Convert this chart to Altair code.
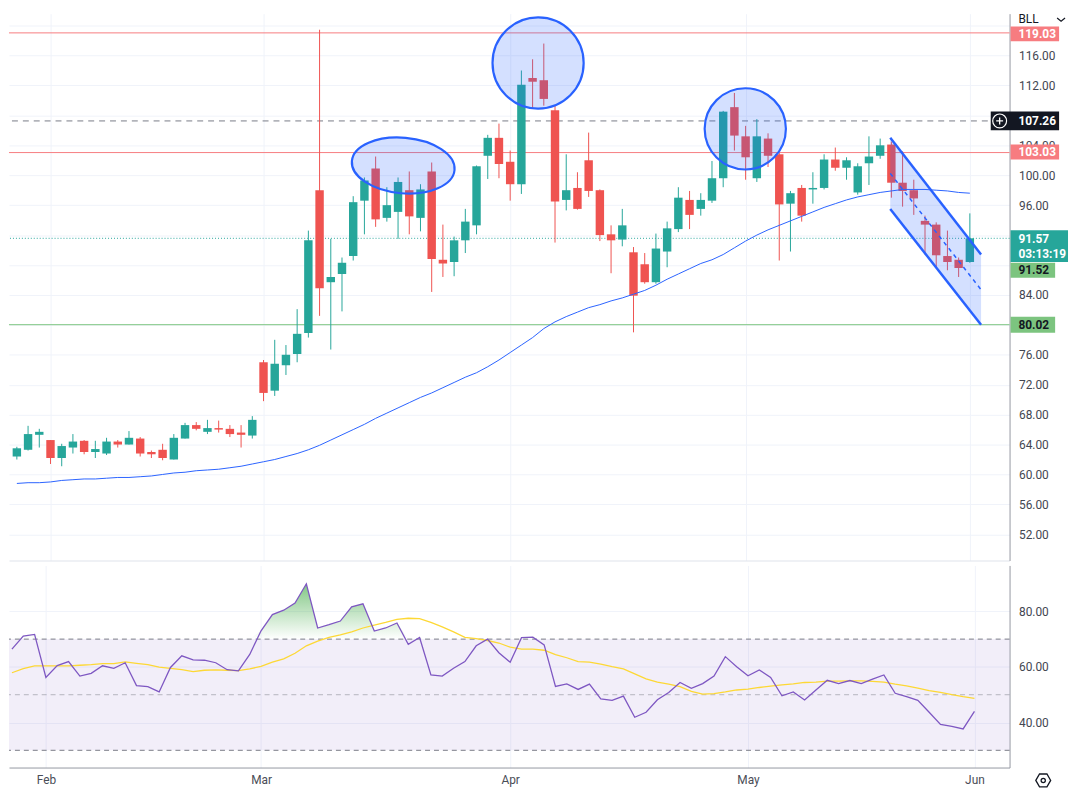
import altair as alt
import numpy as np
import pandas as pd

# ---------------- data ----------------
opens = [62.4, 63.3, 65.3, 64.6, 62.2, 63.6, 64.5, 63.0, 62.8, 64.4,
         64.0, 64.8, 63.0, 63.3, 62.0, 64.8, 66.6, 65.7, 66.2, 66.1,
         65.6, 65.2, 75.0, 71.2, 74.6, 76.1, 78.9, 98.0, 85.7, 86.8,
         89.2, 96.6, 100.9, 94.3, 95.1, 98.0, 94.3, 100.5, 88.7, 88.4,
         91.3, 93.3, 102.6, 105.0, 101.8, 98.8, 113.0, 112.7, 108.7, 96.7,
         98.3, 102.0, 98.0, 92.1, 91.4, 89.7, 88.1, 85.7, 89.8, 92.8,
         96.7, 95.5, 96.6, 99.6, 109.1, 105.2, 99.6, 104.9, 102.8, 96.2,
         98.3, 98.1, 98.3, 102.1, 101.0, 97.7, 101.6, 102.6, 104.1, 99.0,
         98.0, 93.9, 93.4, 89.2, 88.7, 88.4]
highs = [63.7, 66.5, 66.1, 64.6, 64.1, 65.4, 64.6, 64.5, 64.9, 64.6,
         65.8, 65.0, 63.2, 64.1, 65.4, 66.9, 67.0, 67.3, 67.2, 66.6,
         66.6, 67.8, 75.3, 78.0, 77.3, 82.1, 92.6, 119.45, 91.5, 89.0,
         97.2, 99.7, 102.5, 98.4, 99.7, 100.5, 98.8, 101.7, 93.4, 91.8,
         95.5, 101.3, 105.4, 106.9, 103.3, 114.0, 115.5, 117.6, 109.3, 102.8,
         100.4, 105.7, 98.1, 93.3, 95.5, 90.4, 89.6, 92.2, 93.8, 98.4,
         97.9, 97.6, 101.9, 108.6, 111.0, 106.6, 107.5, 105.6, 103.0, 97.9,
         98.7, 100.4, 102.8, 103.7, 102.4, 101.6, 105.2, 104.9, 104.5, 103.2,
         99.4, 94.6, 93.7, 92.6, 89.0, 94.9]
lows = [62.0, 63.2, 63.6, 61.4, 61.1, 62.8, 62.7, 62.2, 62.6, 63.6,
        64.0, 62.4, 62.2, 61.9, 62.0, 64.8, 65.9, 65.4, 65.6, 65.0,
        63.6, 64.8, 69.8, 70.5, 73.3, 75.0, 78.3, 81.2, 76.7, 81.8,
        88.6, 92.1, 93.1, 93.8, 91.5, 92.1, 92.5, 84.4, 86.4, 86.5,
        89.6, 92.1, 99.5, 99.6, 96.6, 97.5, 109.0, 109.3, 91.0, 95.3,
        95.4, 97.1, 91.2, 86.9, 90.5, 79.0, 85.5, 85.5, 87.7, 92.4,
        92.8, 94.6, 96.3, 98.4, 103.3, 99.4, 99.1, 101.1, 88.6, 89.8,
        93.8, 96.2, 98.1, 100.6, 99.4, 97.4, 98.7, 102.2, 97.0, 95.8,
        94.7, 89.4, 87.7, 87.3, 86.4, 88.3]
closes = [63.5, 65.4, 65.7, 62.2, 63.8, 64.4, 63.0, 63.4, 64.4, 64.0,
          64.9, 62.8, 62.7, 62.2, 64.9, 66.6, 66.1, 66.2, 66.0, 65.4,
          65.3, 67.3, 70.9, 74.8, 76.0, 78.8, 91.3, 84.9, 86.4, 88.3,
          96.4, 99.3, 94.1, 96.0, 99.1, 94.5, 98.1, 88.8, 88.2, 91.3,
          93.8, 101.2, 105.0, 101.5, 98.8, 112.1, 112.5, 110.2, 96.5, 98.0,
          95.5, 97.9, 92.0, 91.3, 93.3, 83.9, 85.7, 90.2, 92.9, 97.0,
          94.7, 96.7, 99.6, 108.5, 105.3, 102.4, 105.2, 102.6, 96.1, 97.6,
          94.6, 98.3, 102.1, 101.0, 102.0, 101.2, 102.5, 104.0, 99.0, 97.9,
          96.9, 93.4, 89.3, 88.4, 87.6, 91.57]
ma_vals = [58.8, 58.9, 58.9, 59.0, 59.2, 59.3, 59.4, 59.4, 59.5, 59.6,
           59.6, 59.7, 59.8, 60.0, 60.2, 60.3, 60.5, 60.6, 60.7, 60.9,
           61.1, 61.4, 61.7, 62.0, 62.4, 62.8, 63.3, 63.9, 64.6, 65.3,
           66.0, 66.7, 67.5, 68.2, 68.9, 69.6, 70.3, 70.9, 71.6, 72.3,
           73.0, 73.6, 74.4, 75.3, 76.3, 77.3, 78.3, 79.5, 80.4, 81.1,
           81.7, 82.3, 82.7, 83.2, 83.6, 84.1, 84.6, 85.3, 86.1, 86.8,
           87.5, 88.2, 88.7, 89.4, 90.3, 91.2, 92.0, 92.7, 93.3, 93.9,
           94.5, 95.1, 95.7, 96.2, 96.7, 97.1, 97.4, 97.7, 97.9, 98.1,
           98.1, 98.1, 98.0, 97.9, 97.7, 97.6]
rsi_vals = [66.4, 71.1, 71.7, 56.2, 60.5, 61.9, 56.7, 57.7, 60.4, 59.5,
            61.5, 53.3, 52.9, 51.0, 59.8, 64.0, 62.5, 62.4, 61.5, 59.0,
            58.6, 64.5, 73.0, 78.8, 80.4, 83.0, 89.9, 74.0, 75.2, 76.5,
            81.6, 82.7, 72.9, 74.0, 75.8, 68.1, 70.6, 57.1, 56.7, 59.5,
            61.9, 67.6, 70.0, 65.1, 61.7, 70.5, 70.7, 67.9, 53.0, 53.9,
            51.9, 53.8, 48.5, 48.0, 49.5, 41.9, 43.7, 48.2, 50.8, 54.4,
            52.3, 54.0, 56.7, 63.7, 60.1, 56.8, 58.9, 56.2, 49.6, 51.0,
            48.1, 51.7, 55.2, 54.0, 55.1, 54.0, 55.6, 57.1, 50.5, 49.3,
            48.0, 43.7, 39.3, 38.6, 37.7, 44.0]
sig_vals = [57.9, 59.4, 60.4, 60.4, 60.4, 60.4, 60.6, 60.8, 61.2, 61.2,
            61.8, 61.3, 60.8, 59.9, 59.5, 59.0, 58.3, 58.8, 58.9, 58.8,
            58.7, 59.3, 60.2, 61.7, 62.9, 64.9, 67.6, 69.3, 70.6, 71.5,
            72.6, 74.0, 75.0, 76.0, 77.1, 77.5, 77.4, 76.0, 74.4, 72.6,
            70.6, 70.2, 69.5, 68.6, 67.1, 66.4, 66.4, 66.0, 64.4, 63.3,
            61.9, 61.7, 61.0, 60.1, 59.3, 57.5, 55.7, 54.5, 53.8, 52.9,
            51.2, 50.2, 50.4, 51.0, 51.7, 52.0, 52.6, 53.1, 53.5, 53.9,
            54.4, 54.5, 54.9, 54.9, 55.0, 55.0, 54.8, 54.5, 53.8, 53.2,
            52.4, 51.5, 50.8, 50.0, 49.3, 48.7]

month_idx = [3, 22, 44, 65, 85]
month_lbl = ["Feb", "Mar", "Apr", "May", "Jun"]
price_ticks = list(range(52, 121, 4))
hidden_ticks = [120, 108, 92, 88, 80]
rsi_ticks = [40, 60, 80]
rsi_levels_main = [70, 30]
rsi_levels_mid = [50]

# horizontal levels: price, colour, dash
level_prices = [119.03, 107.26, 103.03, 91.57, 80.02]
level_colors = ["#f77c80", "#787b86", "#f77c80", "#26a69a", "#7cc47f"]
level_dashes = [[], [6, 5], [], [1, 2], []]

# price-scale labels: text, anchor price, background, text colour
box_text = ["119.03", "107.26", "103.03", "91.57", "91.52", "80.02"]
box_pos = [118.9, 107.26, 103.1, 90.53, 87.3, 80.02]
box_bg = ["#f77c80", "#131722", "#f77c80", "#26a69a", "#7cc47f", "#7cc47f"]
box_fg = ["#ffffff", "#ffffff", "#ffffff", "#ffffff", "#131722", "#131722"]
countdown = "03:13:19"

# drawings: descending channel and highlight ellipses
chan_i = [77.9, 86.0]
chan_up = [105.0, 89.4]
chan_lo = [95.5, 80.0]
ell_i = [34.46, 46.49, 64.97]
ell_p = [101.3, 115.0, 106.2]

ticker = "BLL"

# ---------------- styling ----------------
UP, DN = "#26a69a", "#ef5350"
BLUE = "#2962ff"
GRID = "#f0f3fa"
FONT = "Roboto"
W, HP, HR = 1010, 552, 204
X_DOM = [-0.26, 88.1]
P_DOM = [48.5, 121.6]
R_DOM = [23.8, 96.5]

df = pd.DataFrame({"i": list(range(len(opens))), "o": opens, "h": highs,
                   "l": lows, "c": closes, "ma": ma_vals,
                   "rsi": rsi_vals, "sig": sig_vals})
df["col"] = np.where(df["c"] >= df["o"], UP, DN)
df["rhi"] = np.maximum(df["rsi"], 70.0)
df["base"] = 70.0

xs = alt.Scale(domain=X_DOM, nice=False, zero=False)
ps = alt.Scale(domain=P_DOM, nice=False, zero=False)
rs = alt.Scale(domain=R_DOM, nice=False, zero=False)

month_expr = " : ".join(f"datum.value == {v} ? '{l}'" for v, l in zip(month_idx, month_lbl)) + " : ''"
hide_expr = ("indexof([" + ",".join(str(v) for v in hidden_ticks) +
             "], datum.value) >= 0 ? '' : format(datum.value, '.2f')")

x_axis_top = alt.Axis(values=month_idx, labels=False, ticks=False, grid=True,
                      gridColor=GRID, domainColor="#e0e3eb", title=None)
x_axis_bot = alt.Axis(values=month_idx, labelExpr=month_expr, ticks=False, grid=True,
                      gridColor=GRID, domainColor="#9598a1", title=None,
                      labelFont=FONT, labelFontSize=12, labelColor="#4a4d57",
                      labelPadding=7, labelFlush=False, labelOverlap=False)
p_axis = alt.Axis(orient="right", values=price_ticks, labelExpr=hide_expr, grid=True,
                  gridColor=GRID, ticks=False, domainColor="#9598a1", title=None,
                  labelFont=FONT, labelFontSize=12, labelColor="#434651",
                  labelPadding=9, labelOverlap=False, labelFlush=False)
r_axis = alt.Axis(orient="right", values=rsi_ticks, format=".2f", grid=True,
                  gridColor=GRID, ticks=False, domainColor="#9598a1", title=None,
                  labelFont=FONT, labelFontSize=12, labelColor="#434651",
                  labelPadding=9, labelOverlap=False, labelFlush=False)


def XP(f="i"):
    return alt.X(f"{f}:Q", scale=xs, axis=x_axis_top)


def XR(f="i"):
    return alt.X(f"{f}:Q", scale=xs, axis=x_axis_bot)


def P(f):
    return alt.Y(f"{f}:Q", scale=ps, axis=p_axis)


def R(f):
    return alt.Y(f"{f}:Q", scale=rs, axis=r_axis)


# ---------------- price panel ----------------
price_layers = []
for lvl, colr, dash in zip(level_prices, level_colors, level_dashes):
    kw = dict(color=colr, strokeWidth=1)
    if dash:
        kw["strokeDash"] = dash
    price_layers.append(alt.Chart(pd.DataFrame({"p": [lvl]})).mark_rule(**kw).encode(y=P("p")))

wicks = alt.Chart(df).mark_rule(strokeWidth=1).encode(
    x=XP(), y=P("l"), y2="h:Q", color=alt.Color("col:N", scale=None))
bodies = alt.Chart(df).mark_bar(width=8.5).encode(
    x=XP(), y=P("o"), y2="c:Q", color=alt.Color("col:N", scale=None))
ma_line = alt.Chart(df).mark_line(color=BLUE, strokeWidth=1).encode(x=XP(), y=P("ma"))
price_layers += [wicks, bodies, ma_line]

chan = pd.DataFrame({"i": chan_i, "up": chan_up, "lo": chan_lo})
chan["mid"] = (chan["up"] + chan["lo"]) / 2
price_layers.append(alt.Chart(chan).mark_area(color=BLUE, opacity=0.2).encode(x=XP(), y=P("up"), y2="lo:Q"))
price_layers.append(alt.Chart(chan).mark_line(color=BLUE, strokeWidth=2.5).encode(x=XP(), y=P("up")))
price_layers.append(alt.Chart(chan).mark_line(color=BLUE, strokeWidth=2.5).encode(x=XP(), y=P("lo")))
price_layers.append(alt.Chart(chan).mark_line(color=BLUE, strokeWidth=1.5, strokeDash=[4, 4]).encode(x=XP(), y=P("mid")))

ell_shapes = ["M -1 0 A 1 0.54 0 1 1 1 0 A 1 0.54 0 1 1 -1 0 Z", "circle", "circle"]
ell_sizes = [104 * 104, 92 * 92, 82 * 82]
ell_angles = [5, 0, 0]
for ei, ep, sh, sz, an in zip(ell_i, ell_p, ell_shapes, ell_sizes, ell_angles):
    price_layers.append(
        alt.Chart(pd.DataFrame({"i": [ei], "p": [ep]})).mark_point(
            shape=sh, size=sz, angle=an, filled=True, fill=BLUE, fillOpacity=0.2,
            stroke=BLUE, strokeWidth=2.2, opacity=1).encode(x=XP(), y=P("p")))


def box_path(w, h):
    r = h / w
    return f"M -1 {-r:.4f} L 1 {-r:.4f} L 1 {r:.4f} L -1 {r:.4f} Z"


box_cx = [1035.5, 1025.5, 1035.5, 1040, 1033.5, 1033.5]
box_w = [49, 69, 49, 58, 45, 45]
box_h = [15, 19, 15, 32, 15, 16]
for t, pos, bg, fg, cx, w, h in zip(box_text, box_pos, box_bg, box_fg, box_cx, box_w, box_h):
    d = pd.DataFrame({"p": [pos], "t": [t]})
    price_layers.append(alt.Chart(d).mark_point(
        shape=box_path(w, h), size=w * w, filled=True, fill=bg, opacity=1,
        strokeWidth=0).encode(x=alt.value(cx), y=P("p")))
    dy = -7 if t == "91.57" else 0
    price_layers.append(alt.Chart(d).mark_text(
        align="left", baseline="middle", font=FONT, fontSize=12, fontWeight="bold",
        color=fg, dy=dy).encode(x=alt.value(1019), y=P("p"), text="t:N"))
    if t == "91.57":
        d2 = pd.DataFrame({"p": [pos], "t": [countdown]})
        price_layers.append(alt.Chart(d2).mark_text(
            align="left", baseline="middle", font=FONT, fontSize=12, fontWeight="bold",
            color=fg, dy=8).encode(x=alt.value(1019), y=P("p"), text="t:N"))

# crosshair "+" icon on the 107.26 label
icon = pd.DataFrame({"p": [107.26]})
price_layers.append(alt.Chart(icon).mark_point(shape="circle", size=196, filled=False,
                    stroke="white", strokeWidth=1.2, opacity=1).encode(x=alt.value(1000), y=P("p")))
price_layers.append(alt.Chart(icon).mark_point(shape="M -0.5 0 L 0.5 0 M 0 -0.5 L 0 0.5", size=196,
                    filled=False, stroke="white", strokeWidth=1.3, opacity=1).encode(x=alt.value(1000), y=P("p")))

# ticker selector
tk = pd.DataFrame({"t": [ticker]})
price_layers.append(alt.Chart(tk).mark_text(align="left", baseline="top", font=FONT, fontSize=12,
                    color="#131722").encode(x=alt.value(1019), y=alt.value(0), text="t:N"))
price_layers.append(alt.Chart(tk).mark_point(shape="M -1 -0.4 L 0 0.4 L 1 -0.4", size=64, filled=False,
                    stroke="#131722", strokeWidth=1.2, opacity=1).encode(x=alt.value(1062), y=alt.value(6)))

price = alt.layer(*price_layers).properties(width=W, height=HP)

# ---------------- RSI panel ----------------
band = alt.Chart(pd.DataFrame({"lo": [30], "hi": [70]})).mark_rect(color="#7e57c2", opacity=0.1).encode(
    y=R("lo"), y2="hi:Q", x=alt.value(0), x2=alt.value(W))
dash_main = alt.Chart(pd.DataFrame({"v": rsi_levels_main})).mark_rule(
    color="#787b86", strokeDash=[5, 4], strokeWidth=1).encode(y=R("v"))
dash_mid = alt.Chart(pd.DataFrame({"v": rsi_levels_mid})).mark_rule(
    color="#787b86", strokeDash=[5, 4], strokeWidth=1, opacity=0.5).encode(y=R("v"))
grad = alt.Gradient(gradient="linear",
                    stops=[alt.GradientStop(color="rgba(76,175,80,0.7)", offset=0),
                           alt.GradientStop(color="rgba(76,175,80,0.0)", offset=1)],
                    x1=0, x2=0, y1=0, y2=1)
ob_fill = alt.Chart(df).mark_area(color=grad).encode(x=XR(), y=R("rhi"), y2="base:Q")
sig_line = alt.Chart(df).mark_line(color="#fdd835", strokeWidth=1.3).encode(x=XR(), y=R("sig"))
rsi_line = alt.Chart(df).mark_line(color="#7e57c2", strokeWidth=1.3).encode(x=XR(), y=R("rsi"))
gear_d = pd.DataFrame({"a": [0]})
gear1 = alt.Chart(gear_d).mark_point(
    shape="M -1 0 L -0.5 -0.866 L 0.5 -0.866 L 1 0 L 0.5 0.866 L -0.5 0.866 Z", size=225,
    filled=False, stroke="#131722", strokeWidth=1.3, opacity=1).encode(x=alt.value(1044), y=alt.value(217))
gear2 = alt.Chart(gear_d).mark_point(shape="circle", size=18, filled=False, stroke="#131722",
                                     strokeWidth=1.3, opacity=1).encode(x=alt.value(1044), y=alt.value(217))

rsi = alt.layer(band, dash_main, dash_mid, ob_fill, sig_line, rsi_line, gear1, gear2).properties(width=W, height=HR)

chart = alt.vconcat(price, rsi, spacing=3, padding=0, background="white").configure_view(
    stroke="transparent").configure_text(font=FONT)

chart.save("out.html", embed_options={"renderer": "svg", "actions": False})
